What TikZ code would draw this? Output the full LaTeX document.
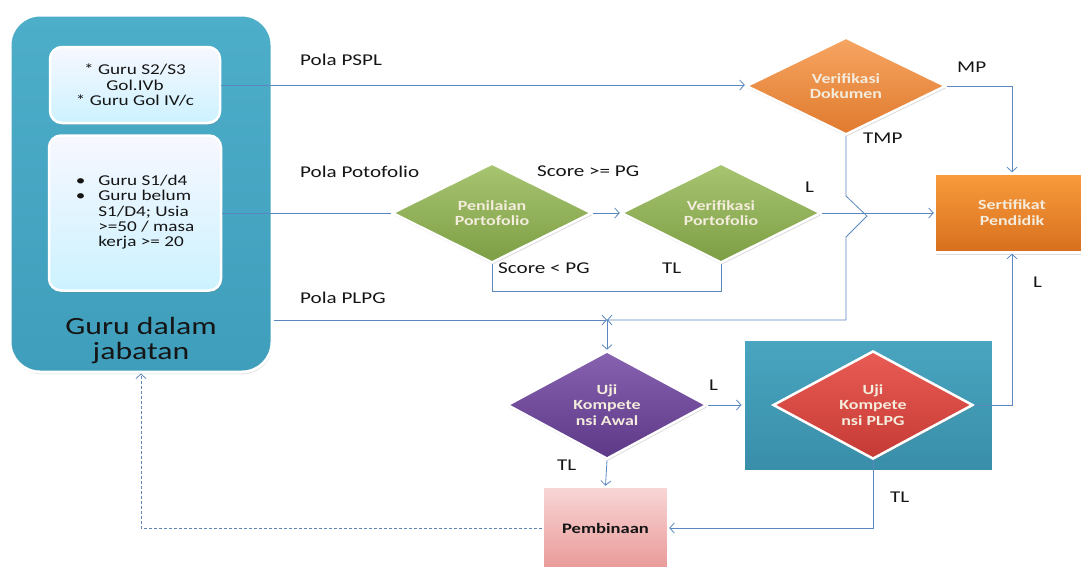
\documentclass[tikz,border=0pt]{standalone}
\usepackage{fontspec}
\setmainfont{Carlito}[FakeStretch=1.28]
\usetikzlibrary{shapes.geometric,arrows.meta,shadows}
\definecolor{lnc}{HTML}{5B87C0}
\definecolor{cream}{HTML}{F4ECDD}
\definecolor{tealA}{HTML}{4DAECA}
\definecolor{tealB}{HTML}{3F9EBB}
\definecolor{txt}{HTML}{151515}
\definecolor{orA}{HTML}{F6A562}
\definecolor{orB}{HTML}{E07A2E}
\definecolor{grA}{HTML}{A8C572}
\definecolor{grB}{HTML}{7D9E44}
\definecolor{puA}{HTML}{8762B0}
\definecolor{puB}{HTML}{5C3886}
\definecolor{reA}{HTML}{E95C55}
\definecolor{reB}{HTML}{C63A35}
\definecolor{ceA}{HTML}{F99C3C}
\definecolor{ceB}{HTML}{D76F1E}
\definecolor{piA}{HTML}{F8D6D6}
\definecolor{piB}{HTML}{E99A98}
\begin{document}
\begin{tikzpicture}[x=1pt,y=-1pt,
  conn/.style={draw=lnc,line width=0.8pt},
  arr/.style={conn,-{Straight Barb[length=4.5pt,width=10pt]}},
  dotarr/.style={draw=lnc!85!gray,line width=0.8pt,densely dashed,-{Straight Barb[length=4.5pt,width=10pt]}},
  lbl/.style={anchor=west,inner sep=0pt,font=\fontsize{16.5}{20}\selectfont,text=txt},
  shd/.style={drop shadow={opacity=0.3,shadow xshift=0.8pt,shadow yshift=-2pt}},
  dia/.style={diamond,minimum width=200pt,minimum height=95pt,inner sep=0pt,draw=white,line width=2.5pt,shd,align=center,font=\fontsize{14}{15.5}\selectfont\bfseries,text=cream},
  lightbox/.style={rectangle,rounded corners=12pt,draw=white,line width=2.5pt,top color=blue!3!white,bottom color=blue!25!cyan!20!white,shd,text=txt},
  blk/.style={rectangle,draw=white,line width=2.5pt,shd,inner sep=0pt,align=center,font=\fontsize{14}{16}\selectfont\bfseries}
]
\path[use as bounding box,clip] (0,0) rectangle (1081,566);

% big container
\node[rectangle,rounded corners=30pt,minimum width=262pt,minimum height=357pt,draw=white,line width=3pt,top color=tealA,bottom color=tealB,shd] (big) at (141,193.5) {};
\node[lightbox,minimum width=170pt,minimum height=76pt,align=center,font=\fontsize{15}{15.5}\selectfont] (box1) at (135,85) {* Guru S2/S3\\Gol.IVb\\* Guru Gol IV/c};
\node[lightbox,minimum width=172pt,minimum height=155pt,font=\fontsize{15}{15.2}\selectfont] (box2) at (135,213) {%
  \begin{tabular}{@{}l@{\hspace{13pt}}l@{}}
  \textbullet & Guru S1/d4\\
  \textbullet & Guru belum\\
  & S1/D4; Usia\\
  & >=50 / masa\\
  & kerja >= 20
  \end{tabular}};
\node[align=center,font=\fontsize{24.8}{25}\selectfont,text=txt] (gdj) at (141,341) {Guru dalam\\jabatan};

% decision nodes
\node[dia,minimum height=93pt,top color=orA,bottom color=orB] (vd) at (846,86) {Verifikasi\\Dokumen};
\node[dia,top color=grA,bottom color=grB] (pp) at (492,213) {Penilaian\\Portofolio};
\node[dia,top color=grA,bottom color=grB] (vp) at (721,213) {Verifikasi\\Portofolio};
\node[blk,minimum width=154pt,minimum height=79pt,top color=ceA,bottom color=ceB,text=cream] (cert) at (1012,213) {Sertifikat\\Pendidik};

\node[dia,top color=puA,bottom color=puB] (ua) at (607,405) {Uji\\Kompete\\nsi Awal};
\node[rectangle,minimum width=250pt,minimum height=132pt,draw=white,line width=3pt,top color=tealA!95!black,bottom color=tealB!90!black,shd] (plpgbox) at (868,405) {};
\node[dia,top color=reA,bottom color=reB] (up) at (873,405) {Uji\\Kompete\\nsi PLPG};
\node[blk,minimum width=125pt,minimum height=82pt,top color=piA,bottom color=piB,text=txt,font=\fontsize{14.5}{16}\selectfont\bfseries] (pemb) at (605.5,528) {Pembinaan};

\coordinate (jn) at (607,320);

% connectors
\draw[arr] (box1.east) -- (box1.east -| vd.west);
\draw[arr] (vd.east) -| (cert.north);
\draw[arr] (vd.south) -- ++(0,60) -- ++(21,20) -- ++(-21,21) -- (vd.south |- jn) -- (jn);
\draw[conn] (box2.east) -- (pp.west);
\draw[arr] (pp.east) -- (vp.west);
\draw[arr] (vp.east) -- (cert.west);
\draw[conn] (pp.south) -- ++(0,27) -| (vp.south);
\draw[arr] (jn -| big.east) -- (jn);
\draw[arr] (jn) -- (ua.north);
\draw[arr] (ua.east) -- (plpgbox.west);
\draw[arr] (up.east) -| (cert.south);
\draw[arr] (up.south) |- (pemb.east);
\draw[arr] (ua.south) -- (pemb.north);
\draw[dotarr] (pemb.west) -| (big.south);

% labels
\node[lbl] (l1) at (300,60) {Pola PSPL};
\node[lbl] (l2) at (300,172) {Pola Potofolio};
\node[lbl] (l3) at (300,298) {Pola PLPG};
\node[lbl] (l4) at (537,171) {Score >= PG};
\node[lbl] (l5) at (498,268) {Score < PG};
\node[lbl] (l6) at (662,268) {TL};
\node[lbl] (l7) at (805,187) {L};
\node[lbl] (l8) at (957,67) {MP};
\node[lbl] (l9) at (863,138) {TMP};
\node[lbl] (l10) at (1033,282) {L};
\node[lbl] (l11) at (709,385) {L};
\node[lbl] (l12) at (557,465) {TL};
\node[lbl] (l13) at (890,497) {TL};
\end{tikzpicture}
\end{document}
